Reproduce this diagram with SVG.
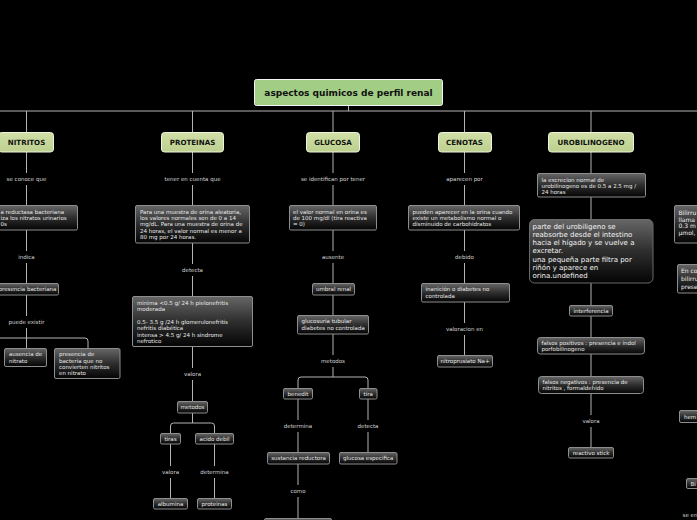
<svg xmlns="http://www.w3.org/2000/svg" width="697" height="520" viewBox="0 0 697 520">
<defs>
<linearGradient id="gb" x1="0" y1="0" x2="0" y2="1">
<stop offset="0" stop-color="#666"/>
<stop offset="0.5" stop-color="#2e2e2e"/>
<stop offset="1" stop-color="#040404"/>
</linearGradient>
<linearGradient id="gg" x1="0" y1="0" x2="0" y2="1">
<stop offset="0" stop-color="#d0dfa6"/>
<stop offset="1" stop-color="#bcd08f"/>
</linearGradient>
<style>
.c{stroke:#b4b4b4;stroke-width:1;fill:none}
.bg{fill:#000}
.l{fill:#d4d4d4;font-family:"DejaVu Sans",Verdana,sans-serif;font-size:5.5px;text-anchor:middle}
.b{fill:url(#gb);stroke:#8e8e8e;stroke-width:1}
.t{fill:#e8e8e8;font-family:"DejaVu Sans",Verdana,sans-serif;font-size:5.5px}
.tc{text-anchor:middle}
.t7{font-size:7px;fill:#f4f4f4}
.t6{font-size:6px;fill:#eeeeee}
.g{fill:url(#gg);stroke:#eef3dc;stroke-width:1}
.gt{fill:#111;font-family:"DejaVu Sans",Verdana,sans-serif;font-size:7.1px;font-weight:bold;text-anchor:middle}
</style>
</defs>
<rect width="697" height="520" fill="#000"/>
<g id="connectors">
<path class="c" d="M348.5 106V111M0 111H697"/>
<path class="c" d="M26.5 111V132M192.5 111V132M333 111V132M464.5 111V132M591 111V132"/>
<path class="c" d="M26.5 152V349M0 338H85Q88 338 88 341V348"/>
<path class="c" d="M192.5 152V423M170.5 433V426Q170.5 423 173.5 423H211.5Q214.5 423 214.5 426V433M170.5 444V498M214.5 444V498"/>
<path class="c" d="M333 152V377M298 388V380Q298 377 301 377H365Q368 377 368 380V388M298 399V518M368 399V452"/>
<path class="c" d="M464.5 152V355"/>
<path class="c" d="M591 152V447"/>
<g>
<rect class="bg" x="23.5" y="173" width="6" height="12"/><text class="l" x="26.5" y="181">se conoce que</text>
<rect class="bg" x="23.5" y="251" width="6" height="12"/><text class="l" x="26.5" y="259">indica</text>
<rect class="bg" x="23.5" y="316" width="6" height="12"/><text class="l" x="26.5" y="324">puede existir</text>
<rect class="bg" x="189.5" y="173" width="6" height="12"/><text class="l" x="192.5" y="181">tener en cuenta que</text>
<rect class="bg" x="189.5" y="264" width="6" height="12"/><text class="l" x="192.5" y="272">detecta</text>
<rect class="bg" x="189.5" y="368" width="6" height="12"/><text class="l" x="192.5" y="376">valora</text>
<rect class="bg" x="167.5" y="466" width="6" height="12"/><text class="l" x="170.5" y="474">valora</text>
<rect class="bg" x="211.5" y="466" width="6" height="12"/><text class="l" x="214.5" y="474">determina</text>
<rect class="bg" x="330" y="173" width="6" height="12"/><text class="l" x="333" y="181">se identifican por tener</text>
<rect class="bg" x="330" y="251" width="6" height="12"/><text class="l" x="333" y="259">ausente</text>
<rect class="bg" x="330" y="355" width="6" height="12"/><text class="l" x="333" y="363">metodos</text>
<rect class="bg" x="295" y="420" width="6" height="12"/><text class="l" x="298" y="428">determina</text>
<rect class="bg" x="365" y="420" width="6" height="12"/><text class="l" x="368" y="428">detecta</text>
<rect class="bg" x="295" y="485" width="6" height="12"/><text class="l" x="298" y="493">como</text>
<rect class="bg" x="461.5" y="173" width="6" height="12"/><text class="l" x="464.5" y="181">aparecen por</text>
<rect class="bg" x="461.5" y="251" width="6" height="12"/><text class="l" x="464.5" y="259">debido</text>
<rect class="bg" x="461.5" y="323" width="6" height="12"/><text class="l" x="464.5" y="331">valoracion en</text>
<rect class="bg" x="588" y="415" width="6" height="12"/><text class="l" x="591" y="423">valora</text>
<text class="l" x="690" y="517">se en</text>
</g>
</g>
<g id="root"><rect class="g" x="254.5" y="79.5" width="188" height="26" rx="2" style="fill:#a2cd85;stroke:#f4f4f4"/><text class="gt" x="348.5" y="96" style="font-size:9px">aspectos quimicos de perfil renal</text></g>
<g id="n-nitritos"><rect class="g" x="-1.5" y="132.5" width="55" height="19.5" rx="3"/><text class="gt" x="26.5" y="144.8">NITRITOS</text></g>
<g id="n-proteinas"><rect class="g" x="161.5" y="132.5" width="62" height="19.5" rx="3"/><text class="gt" x="192.5" y="144.8">PROTEINAS</text></g>
<g id="n-glucosa"><rect class="g" x="306.5" y="132.5" width="53" height="19.5" rx="3"/><text class="gt" x="333" y="144.8">GLUCOSA</text></g>
<g id="n-cenotas"><rect class="g" x="438.5" y="132.5" width="53" height="19.5" rx="3"/><text class="gt" x="464.5" y="144.8">CENOTAS</text></g>
<g id="n-urobilinogeno"><rect class="g" x="548.5" y="132.5" width="85" height="19.5" rx="3"/><text class="gt" x="591" y="144.8">UROBILINOGENO</text></g>

<g id="n-reductasa"><rect class="b" x="-40.5" y="205.5" width="118" height="24.5" rx="1.5"/><text class="t" x="0.5" y="213.8">a reductasa bacteriana</text><text class="t" x="0.5" y="220.1">iza los nitratos urinarios</text><text class="t" x="0.5" y="226.4">0s</text></g>
<g id="n-presencia-bact"><rect class="b" x="-40.5" y="283.5" width="99" height="11.5" rx="1.5"/><text class="t" x="-1.5" y="291.2">presencia bacteriana</text></g>
<g id="n-ausencia"><rect class="b" x="4.5" y="348.5" width="42" height="18" rx="1.5"/><text class="t" x="9" y="356.2">ausencia de</text><text class="t" x="9" y="362.6">nitrato</text></g>
<g id="n-presencia-no"><rect class="b" x="54.5" y="348.5" width="65.5" height="30" rx="1.5"/><text class="t" x="59" y="356.2">presencia de</text><text class="t" x="59" y="362.6">bacteria que no</text><text class="t" x="59" y="369">convierten nitritos</text><text class="t" x="59" y="375.4">en nitrato</text></g>

<g id="n-muestra"><rect class="b" x="135.5" y="205.5" width="114" height="37.5" rx="1.5"/><text class="t" x="140" y="213.8">Para una muestra de orina aleatoria,</text><text class="t" x="140" y="220.1">los valores normales son de 0 a 14</text><text class="t" x="140" y="226.4">mg/dL. Para una muestra de orina de</text><text class="t" x="140" y="232.7">24 horas, el valor normal es menor a</text><text class="t" x="140" y="239">80 mg por 24 horas.</text></g>
<g id="n-minima"><rect class="b" x="132.5" y="296.5" width="120" height="50" rx="1.5"/><text class="t" x="137" y="305.2">minima &lt;0.5 g/ 24 h pielonefritis</text><text class="t" x="137" y="311.2">moderada</text><text class="t" x="137" y="324.2">0.5- 3.5 g /24 h  glomerulonefritis</text><text class="t" x="137" y="330.4">nefritis diabética</text><text class="t" x="137" y="336.6">intensa  &gt; 4.5 g/ 24 h sindrome</text><text class="t" x="137" y="342.8">nefrotico</text></g>
<g id="n-metodos"><rect class="b" x="177.5" y="401.5" width="30" height="11.5" rx="1.5"/><text class="t tc" x="192.5" y="409.2">metodos</text></g>
<g id="n-tiras"><rect class="b" x="160.5" y="433.5" width="20" height="10.5" rx="1.5"/><text class="t tc" x="170.5" y="440.7">tiras</text></g>
<g id="n-acido"><rect class="b" x="195.5" y="433.5" width="38" height="10.5" rx="1.5"/><text class="t tc" x="214.5" y="440.7">acido debil</text></g>
<g id="n-albumina"><rect class="b" x="153.5" y="498.5" width="34" height="10.5" rx="1.5"/><text class="t tc" x="170.5" y="505.7">albumina</text></g>
<g id="n-proteinas2"><rect class="b" x="197.5" y="498.5" width="34" height="10.5" rx="1.5"/><text class="t tc" x="214.5" y="505.7">proteinas</text></g>

<g id="n-valor-glu"><rect class="b" x="289.5" y="205.5" width="87" height="24.5" rx="1.5"/><text class="t" x="293" y="213.8">el valor normal en orina es</text><text class="t" x="293" y="220.1">de  100 mg/dl  (tira reactiva</text><text class="t" x="293" y="226.4">= 0)</text></g>
<g id="n-umbral"><rect class="b" x="312.5" y="283.5" width="42" height="11.5" rx="1.5"/><text class="t tc" x="333.5" y="291.2">umbral renal</text></g>
<g id="n-glucosuria"><rect class="b" x="297.5" y="315.5" width="71" height="18.5" rx="1.5"/><text class="t" x="301.5" y="323.2">glucosuria tubular</text><text class="t" x="301.5" y="329.6">diabetes no controlada</text></g>
<g id="n-benedit"><rect class="b" x="283.5" y="388.5" width="29" height="10.5" rx="1.5"/><text class="t tc" x="298" y="395.7">benedit</text></g>
<g id="n-tira"><rect class="b" x="359.5" y="388.5" width="17.5" height="10.5" rx="1.5"/><text class="t tc" x="368.2" y="395.7">tira</text></g>
<g id="n-sustancia"><rect class="b" x="267.5" y="452.5" width="62" height="11.5" rx="1.5"/><text class="t tc" x="298.5" y="460.2">sustancia reductora</text></g>
<g id="n-glucosa-esp"><rect class="b" x="339.5" y="452.5" width="57.5" height="11.5" rx="1.5"/><text class="t tc" x="368.2" y="460.2">glucosa especifica</text></g>
<g id="n-bottom-glu"><rect class="b" x="264.5" y="518.5" width="67" height="12" rx="1.5"/></g>

<g id="n-aparecer"><rect class="b" x="408.5" y="205.5" width="111" height="24.5" rx="1.5"/><text class="t" x="412.5" y="213.8">pueden aparecer en la orina cuando</text><text class="t" x="412.5" y="220.1">existe un metabolismo   normal o</text><text class="t" x="412.5" y="226.4">disminuido de carbohidratos</text></g>
<g id="n-inanicion"><rect class="b" x="421.5" y="283.5" width="88" height="18.5" rx="1.5"/><text class="t" x="425.5" y="291.2">inanición o  diabetes no</text><text class="t" x="425.5" y="297.6">controlada</text></g>
<g id="n-nitroprusiato"><rect class="b" x="437.5" y="355.5" width="55" height="11.5" rx="1.5"/><text class="t tc" x="465" y="363.2">nitroprusiato Na+</text></g>

<g id="n-excrecion"><rect class="b" x="537.5" y="173.5" width="108" height="23.5" rx="1.5"/><text class="t" x="541.5" y="181.8">la excrecion normal de</text><text class="t" x="541.5" y="188">urobilinogeno es de 0.5 a 2.5 mg /</text><text class="t" x="541.5" y="194.2">24 horas</text></g>
<g id="n-parte"><rect class="b" x="529.5" y="219.5" width="123.5" height="63.5" rx="5" style="stroke:#6a6a6a"/><text class="t t7" x="532.5" y="228.5">parte del urobiligeno se</text><text class="t t7" x="532.5" y="236.8">reabsorbe desde el intestino</text><text class="t t7" x="532.5" y="245.1">hacia el hígado y se vuelve a</text><text class="t t7" x="532.5" y="253.4">excretar.</text><text class="t t7" x="532.5" y="261.7">una pequeña parte filtra por</text><text class="t t7" x="532.5" y="270">riñón y aparece en</text><text class="t t7" x="532.5" y="278.3">orina.undefined</text></g>
<g id="n-interferencia"><rect class="b" x="569.5" y="305.5" width="43" height="10.5" rx="1.5"/><text class="t tc" x="591" y="312.7">interferencia</text></g>
<g id="n-falsos-pos"><rect class="b" x="537.5" y="337.5" width="107" height="16.5" rx="3"/><text class="t" x="541.5" y="344.8">falsos positivos : presencia e indol</text><text class="t" x="541.5" y="351">porfobilinogeno</text></g>
<g id="n-falsos-neg"><rect class="b" x="538.5" y="376.5" width="105" height="17" rx="3"/><text class="t" x="542.5" y="384">falsos negativos : presencia de</text><text class="t" x="542.5" y="390.2">nitritos , formaldehido</text></g>
<g id="n-reactivo"><rect class="b" x="568.5" y="447.5" width="45" height="10.5" rx="1.5"/><text class="t tc" x="591" y="454.7">reactivo stick</text></g>

<g id="n-bilirrubina"><rect class="b" x="674.5" y="205.5" width="60" height="37.5" rx="1.5"/><text class="t t6" x="678.5" y="214.8">Bilirru</text><text class="t t6" x="678.5" y="221.5">llama</text><text class="t t6" x="678.5" y="228.2">0.3 m</text><text class="t t6" x="678.5" y="234.9">µmol,</text></g>
<g id="n-enco"><rect class="b" x="677.5" y="264.5" width="60" height="28.5" rx="1.5"/><text class="t t6" x="681" y="272.5">En co</text><text class="t t6" x="681" y="280.5">bilirru</text><text class="t t6" x="681" y="288.5">prese</text></g>
<g id="n-hem"><rect class="b" x="679.5" y="410.5" width="40" height="12" rx="1.5"/><text class="t" x="684" y="418.7">hem</text></g>
<g id="n-bi"><rect class="b" x="686.5" y="478.5" width="30" height="10" rx="1.5"/><text class="t" x="690.5" y="485.7">Bi</text></g>
</svg>
